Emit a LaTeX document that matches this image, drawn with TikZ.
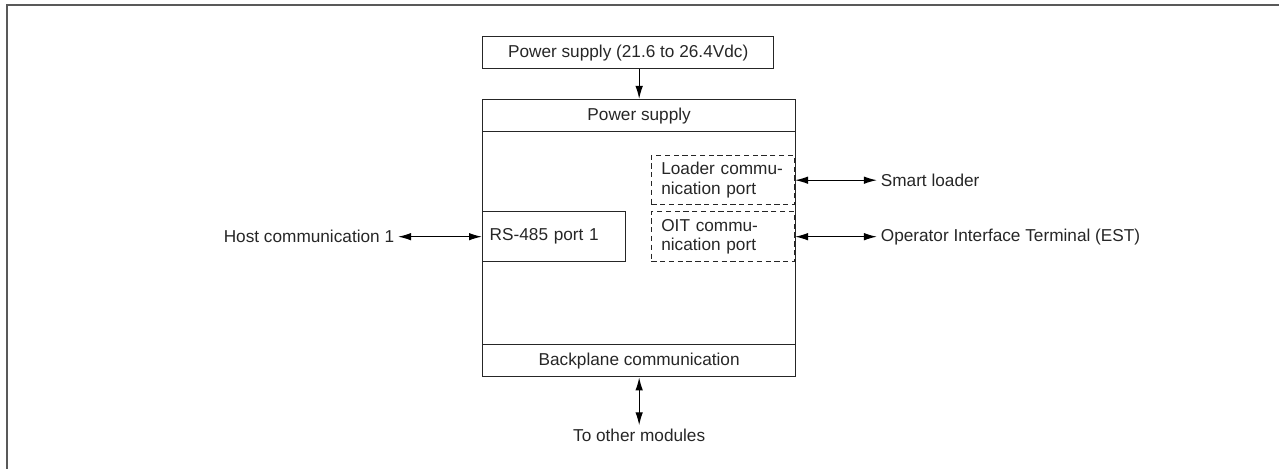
\documentclass[tikz,border=0pt]{standalone}
\usepackage{fontspec}
\setmainfont{Liberation Sans}
\usetikzlibrary{arrows.meta,positioning}

\begin{document}
\begin{tikzpicture}[x=0.02cm,y=-0.02cm,>={Latex[length=2.6mm,width=1.5mm]},
	font=\fontsize{9.8}{11}\selectfont,
	block/.style={draw=black!85,line width=0.8pt,inner sep=0pt,minimum height=0.64cm,text=black!85},
	port/.style={block,dashed,dash pattern=on 3pt off 2pt,minimum width=2.86cm,align=left,text width=2.46cm,inner xsep=0.2cm},
	lbl/.style={inner sep=2pt,text=black!85},
	link/.style={<->,draw=black,line width=0.7pt}]

\useasboundingbox (0,0) rectangle (1279,469);

%frame
\draw[black!65,line width=1.2pt] (7,469) -- (7,5) -- (1279,5);

%Create boxes
\node[block,minimum width=5.82cm,anchor=north west]	(supply)	at (482,36)	{Power supply (21.6 to 26.4Vdc)};
\node[block,minimum width=6.26cm,minimum height=5.54cm,anchor=north west]	(main)	at (482,99)	{};
\node[block,minimum width=6.26cm,anchor=north west]	(psu)	at (main.north west)	{Power supply};
\node[block,minimum width=6.26cm,anchor=south west]	(bus)	at (main.south west)	{Backplane communication};
\node[block,minimum width=2.86cm,minimum height=1.0cm,anchor=north west,align=left,text width=2.58cm,inner xsep=0.14cm]	(rs)	at (482,211)	{RS-485 port 1};
\node[port,minimum height=0.98cm,anchor=north east]	(loader)	at (795,155)	{Loader commu-\\nication port};
\node[port,minimum height=1.0cm,anchor=north east]	(oit)	at (795,211)	{OIT commu-\\nication port};

%Create labels
\node[lbl,right=1.64cm of loader.east,anchor=west]	(smart)	{Smart loader};
\node[lbl,right=1.64cm of oit.east,anchor=west]	(est)	{Operator Interface Terminal (EST)};
\node[lbl,left=1.68cm of rs.west,anchor=east]	(host)	{Host communication 1};
\node[lbl,below=0.96cm of bus.south,anchor=north]	(other)	{To other modules};

%Create connections
\draw[->,black,line width=0.7pt]	(supply.south -| psu.north)	--	(psu.north);
\draw[link]	(host)	--	(rs);
\draw[link]	(loader)	--	(smart);
\draw[link]	(oit)	--	(est);
\draw[link]	(bus)	--	(other);

\end{tikzpicture}
\end{document}
